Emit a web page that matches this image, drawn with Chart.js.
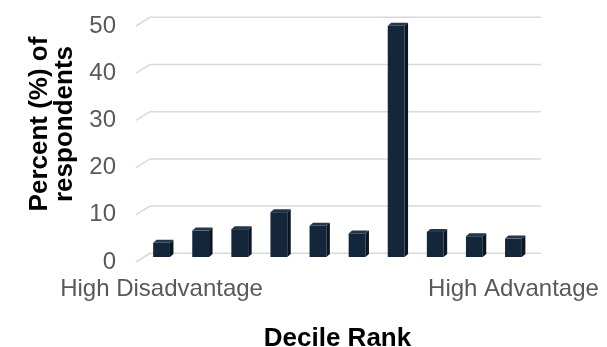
<!DOCTYPE html>
<html>
<head>
<meta charset="utf-8">
<script src="https://cdn.jsdelivr.net/npm/chart.js@4/dist/chart.umd.min.js"></script>
<style>
  html, body { margin: 0; padding: 0; background: #fff; }
  #wrap { width: 607px; height: 347px; }
</style>
</head>
<body>
<div id="wrap"><canvas id="chart"></canvas></div>
<script>
// Decile data: share of respondents per decile rank
const categories = ['High Disadvantage', '', '', '', '', '', '', '', '', 'High Advantage'];
const percentValues = [3, 5.6, 5.9, 9.5, 6.6, 5.0, 49, 5.3, 4.4, 3.9];
const yTicks = [0, 10, 20, 30, 40, 50];
const yTitleLines = ['Percent (%) of', 'respondents'];
const xTitle = 'Decile Rank';

const fontFamily = "'Liberation Sans', Arial, sans-serif";
const frontColor = '#13263a';
const sideColor = '#0b1622';
const topColor = '#22364c';
const gridColor = '#d9d9d9';

// pseudo-3D offsets for the column extrusion and the back wall
const depth = { dx: 3.5, dy: 3 };
const wall = { back: -3.7, front: 5, left: -6, shift: 8 };

// back wall gridlines with the short slanted floor edge on the left
const backWall = {
    id: 'backWall',
    beforeDatasetsDraw(chart) {
        const { ctx, chartArea, scales: { y } } = chart;
        ctx.save();
        ctx.strokeStyle = gridColor;
        ctx.lineWidth = 1.5;
        yTicks.forEach(v => {
            const py = y.getPixelForValue(v);
            ctx.beginPath();
            ctx.moveTo(chartArea.left + wall.left, py + wall.front);
            ctx.lineTo(chartArea.left + wall.shift, py + wall.back);
            ctx.lineTo(chartArea.right + wall.shift, py + wall.back);
            ctx.stroke();
        });
        ctx.restore();
    }
};

// side and top faces of each column
const columnDepth = {
    id: 'columnDepth',
    afterDatasetsDraw(chart) {
        const ctx = chart.ctx;
        chart.getDatasetMeta(0).data.forEach(bar => {
            const { x, y, base, width } = bar.getProps(['x', 'y', 'base', 'width'], true);
            const l = x - width / 2;
            const r = x + width / 2;
            ctx.save();
            ctx.fillStyle = sideColor;
            ctx.beginPath();
            ctx.moveTo(r, y);
            ctx.lineTo(r + depth.dx, y - depth.dy);
            ctx.lineTo(r + depth.dx, base - depth.dy);
            ctx.lineTo(r, base);
            ctx.closePath();
            ctx.fill();
            ctx.fillStyle = topColor;
            ctx.beginPath();
            ctx.moveTo(l, y);
            ctx.lineTo(l + depth.dx, y - depth.dy);
            ctx.lineTo(r + depth.dx, y - depth.dy);
            ctx.lineTo(r, y);
            ctx.closePath();
            ctx.fill();
            ctx.restore();
        });
    }
};

// axis titles
const axisTitles = {
    id: 'axisTitles',
    afterDraw(chart) {
        const { ctx, chartArea } = chart;
        ctx.save();
        ctx.fillStyle = '#000';
        ctx.font = 'bold 26px ' + fontFamily;
        ctx.textAlign = 'center';
        ctx.textBaseline = 'alphabetic';
        const cy = (chartArea.top + chartArea.bottom) / 2 - 15;
        yTitleLines.forEach((line, i) => {
            ctx.save();
            ctx.translate(47 + i * 25, cy);
            ctx.rotate(-Math.PI / 2);
            ctx.fillText(line, 0, 0);
            ctx.restore();
        });
        ctx.fillText(xTitle, (chartArea.left + chartArea.right) / 2, 346);
        ctx.restore();
    }
};

new Chart(document.getElementById('chart'), {
    type: 'bar',
    data: {
        labels: categories,
        datasets: [{
            data: percentValues,
            backgroundColor: frontColor,
            barPercentage: 0.43,
            categoryPercentage: 1
        }]
    },
    options: {
        responsive: true,
        maintainAspectRatio: false,
        animation: false,
        layout: { padding: { top: 21, right: 74, left: 0, bottom: 0 } },
        plugins: { legend: { display: false }, tooltip: { enabled: false } },
        scales: {
            x: {
                grid: { display: false, drawTicks: false },
                border: { display: false },
                ticks: {
                    autoSkip: false, maxRotation: 0, minRotation: 0,
                    padding: 18,
                    color: '#595959',
                    font: { family: fontFamily, size: 24 }
                },
                afterFit: s => {
                    s.height = 90;
                    s.paddingLeft = 0;
                    s.paddingRight = 0;
                }
            },
            y: {
                min: 0, max: 50,
                grid: { display: false, drawTicks: false },
                border: { display: false },
                ticks: {
                    stepSize: 10,
                    padding: 26,
                    labelOffset: 5,
                    color: '#595959',
                    font: { family: fontFamily, size: 24 }
                },
                afterFit: s => {
                    s.width = 142;
                    s.paddingTop = 0;
                    s.paddingBottom = 0;
                }
            }
        }
    },
    plugins: [backWall, columnDepth, axisTitles]
});
</script>
</body>
</html>
